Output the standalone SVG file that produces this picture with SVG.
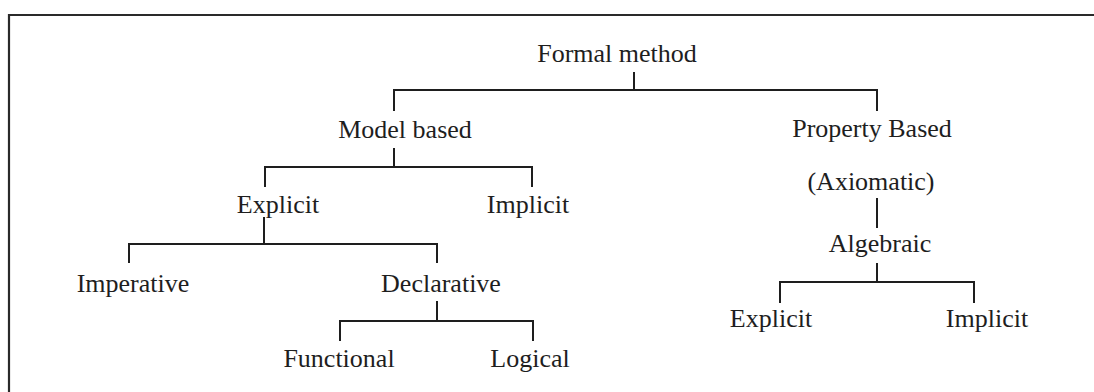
<svg xmlns="http://www.w3.org/2000/svg" width="1094" height="392" viewBox="0 0 1094 392">
  <style>
    .lbl { font-family: "Liberation Serif", "Times New Roman", serif; font-size: 26px; fill: #1e1e1e; text-anchor: middle; }
    .ln { stroke: #1e1e1e; stroke-width: 2; fill: none; stroke-linecap: square; }
    .frame { stroke: #2a2a2a; stroke-width: 2.2; fill: none; }
  </style>
  <rect width="1094" height="392" fill="#ffffff"/>

  <!-- page frame: top rule and left rule -->
  <path class="frame" d="M9 392 V15 H1094"/>

  <!-- tree connectors -->
  <g id="connectors">
    <!-- Formal method -> Model based / Property Based -->
    <path class="ln" d="M634 73 V90 M394 110 V90 H877 V110"/>
    <!-- Model based -> Explicit / Implicit -->
    <path class="ln" d="M394 149 V167 M265 186 V167 H532 V186"/>
    <!-- Explicit -> Imperative / Declarative -->
    <path class="ln" d="M264 218 V244 M129 262 V244 H437 V262"/>
    <!-- Declarative -> Functional / Logical -->
    <path class="ln" d="M437 302 V321 M340 340 V321 H533 V340"/>
    <!-- Property Based (Axiomatic) -> Algebraic -->
    <path class="ln" d="M877 199 V227" stroke="#555"/>
    <!-- Algebraic -> Explicit / Implicit -->
    <path class="ln" d="M877 264 V282 M780 302 V282 H974 V302"/>
  </g>

  <g id="formal-method"><text class="lbl" x="617" y="62">Formal method</text></g>
  <g id="model-based"><text class="lbl" x="405" y="138">Model based</text></g>
  <g id="property-based">
    <text class="lbl" x="872" y="137">Property Based</text>
    <text class="lbl" x="871" y="190">(Axiomatic)</text>
  </g>
  <g id="explicit-model"><text class="lbl" x="278" y="213">Explicit</text></g>
  <g id="implicit-model"><text class="lbl" x="528" y="213">Implicit</text></g>
  <g id="imperative"><text class="lbl" x="133" y="292">Imperative</text></g>
  <g id="declarative"><text class="lbl" x="441" y="292">Declarative</text></g>
  <g id="functional"><text class="lbl" x="339" y="367">Functional</text></g>
  <g id="logical"><text class="lbl" x="530" y="367">Logical</text></g>
  <g id="algebraic"><text class="lbl" x="880" y="252">Algebraic</text></g>
  <g id="explicit-algebraic"><text class="lbl" x="771" y="327">Explicit</text></g>
  <g id="implicit-algebraic"><text class="lbl" x="987" y="327">Implicit</text></g>
</svg>
